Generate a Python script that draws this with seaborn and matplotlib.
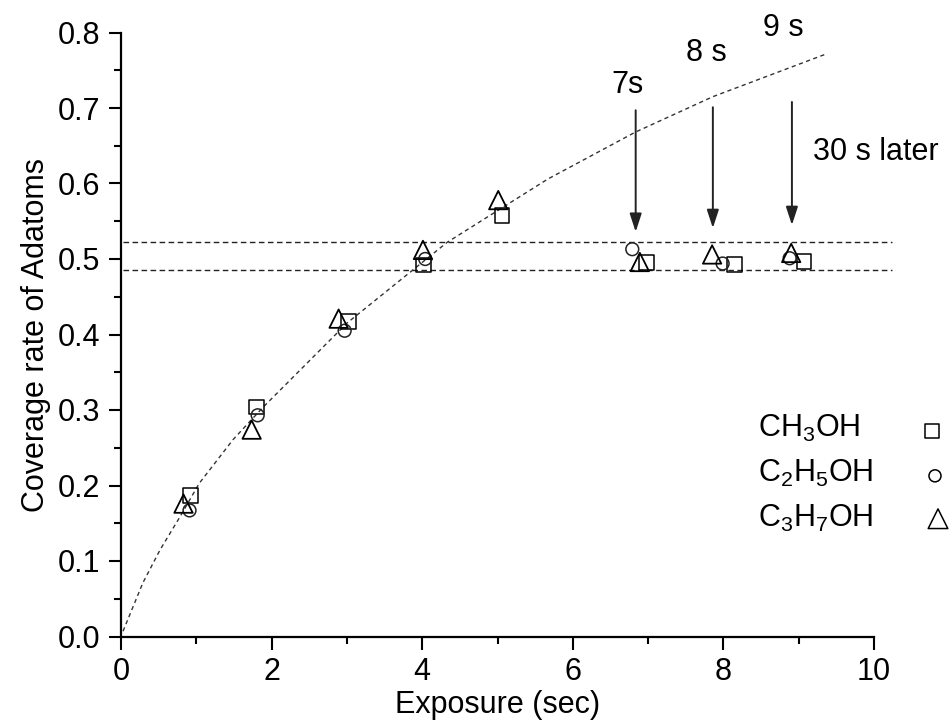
import matplotlib
matplotlib.use('Agg')
import matplotlib.pyplot as plt
from matplotlib.ticker import MultipleLocator, FormatStrFormatter
import numpy as np
import seaborn as sns

sns.set_style('ticks')
plt.rcParams['font.family'] = ['Liberation Sans', 'DejaVu Sans']
plt.rcParams['mathtext.fontset'] = 'custom'
plt.rcParams['mathtext.rm'] = 'Liberation Sans'
plt.rcParams['mathtext.it'] = 'Liberation Sans:italic'
plt.rcParams['text.color'] = 'black'
plt.rcParams['axes.labelcolor'] = 'black'

ch3oh_x = [0.925, 1.80, 3.02, 4.02, 5.06, 6.98, 8.15, 9.07]
ch3oh_y = [0.187, 0.304, 0.417, 0.492, 0.558, 0.495, 0.493, 0.497]
c2h5oh_x = [0.91, 1.815, 2.97, 4.04, 6.79, 7.99, 8.88]
c2h5oh_y = [0.167, 0.293, 0.405, 0.500, 0.513, 0.494, 0.501]
c3h7oh_x = [0.83, 1.735, 2.89, 4.01, 5.01, 6.89, 7.85, 8.90]
c3h7oh_y = [0.176, 0.274, 0.421, 0.512, 0.578, 0.496, 0.506, 0.508]

# fitted curve
fit_x = [0.027, 0.29, 0.52, 0.78, 1.04, 1.49, 1.89, 3.00, 4.33, 5.67, 6.83, 7.86, 9.35]
fit_y = [0.007, 0.071, 0.115, 0.158, 0.203, 0.261, 0.304, 0.415, 0.522, 0.606, 0.668, 0.715, 0.771]

# plateau band
plateau_y = [0.523, 0.486]
plateau_x = [0.02, 10.24]

# arrows "30 s later"
arrow_x = [6.835, 7.86, 8.91]
arrow_top = [0.697, 0.701, 0.708]
arrow_tip = [0.536, 0.541, 0.545]
time_labels = ['7s', '8 s', '9 s']
time_lab_x = [6.72, 7.78, 8.79]
time_lab_y = [0.730, 0.773, 0.806]

legend_labels = ['CH$_3$OH', 'C$_2$H$_5$OH', 'C$_3$H$_7$OH']

fig = plt.figure(figsize=(9.5, 7.22), dpi=100)
ax = fig.add_axes([121/950, 1-636.5/722, 753/950, 604/722])

# fit curve
sns.lineplot(x=fit_x, y=fit_y, ax=ax, color='#333333', lw=1.0,
             linestyle=(0, (3, 2.5)), sort=False)

# plateau lines
for yy in plateau_y:
    ax.plot(plateau_x, [yy, yy], color='#222222', lw=1.0,
            linestyle=(0, (4, 2.5)), clip_on=False)

# data
sns.scatterplot(x=ch3oh_x, y=ch3oh_y, ax=ax, marker='s', s=115,
                facecolors='none', edgecolor='black', linewidth=1.1, zorder=3)
sns.scatterplot(x=c2h5oh_x, y=c2h5oh_y, ax=ax, marker='o', s=85,
                facecolors='none', edgecolor='#222222', linewidth=1.1, zorder=3)
sns.scatterplot(x=c3h7oh_x, y=c3h7oh_y, ax=ax, marker='^', s=175,
                facecolors='none', edgecolor='black', linewidth=1.3, zorder=3)

# arrows and labels
for xx, yt, yb in zip(arrow_x, arrow_top, arrow_tip):
    ax.annotate('', xy=(xx, yb), xytext=(xx, yt),
                arrowprops=dict(arrowstyle='-|>,head_length=0.55,head_width=0.18',
                                color='#222222', lw=1.4, shrinkA=0, shrinkB=0,
                                mutation_scale=20))
for lab, xx, yy in zip(time_labels, time_lab_x, time_lab_y):
    ax.text(xx, yy, lab, ha='center', va='center', fontsize=22, clip_on=False)
ax.text(9.19, 0.642, '30 s later', ha='left', va='center', fontsize=22, clip_on=False)

# legend drawn by hand: text left, symbol right
leg_text_y = [0.330, 0.256, 0.181]
leg_mark = [('s', 100, 1.077, 0.340), ('o', 75, 1.081, 0.266), ('^', 200, 1.085, 0.195)]
for lab, ty in zip(legend_labels, leg_text_y):
    ax.text(0.846, ty, lab, transform=ax.transAxes, fontsize=22, va='baseline', ha='left')
for m, s, mx, my in leg_mark:
    ax.scatter([mx], [my], marker=m, s=s, facecolors='none', edgecolors='black',
               linewidths=1.1, transform=ax.transAxes, clip_on=False)

ax.set_xlim(0, 10)
ax.set_ylim(0, 0.8)
ax.xaxis.set_major_locator(MultipleLocator(2))
ax.xaxis.set_minor_locator(MultipleLocator(1))
ax.yaxis.set_major_locator(MultipleLocator(0.1))
ax.yaxis.set_minor_locator(MultipleLocator(0.05))
ax.yaxis.set_major_formatter(FormatStrFormatter('%.1f'))
ax.tick_params(which='major', length=9, width=1.5, direction='out', labelsize=22,
               pad=6, color='black', labelcolor='black')
ax.tick_params(which='minor', length=5, width=1.5, direction='out', color='black')
for sp in ['left', 'bottom']:
    ax.spines[sp].set_linewidth(1.6)
    ax.spines[sp].set_color('black')
sns.despine(ax=ax)

ax.set_xlabel('Exposure (sec)', fontsize=22, labelpad=2)
ax.set_ylabel('Coverage rate of Adatoms', fontsize=22, labelpad=5)

fig.savefig('out.png', dpi=100)
